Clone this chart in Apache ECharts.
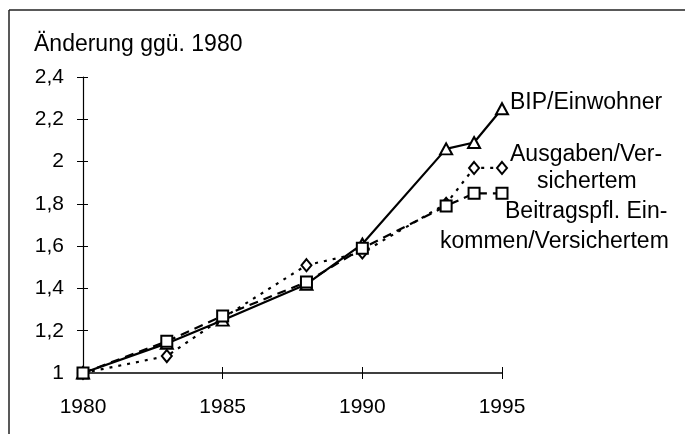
<!DOCTYPE html>
<html>
<head>
<meta charset="utf-8">
<script src="https://cdn.jsdelivr.net/npm/echarts@6/dist/echarts.min.js"></script>
<style>
  html, body { margin: 0; padding: 0; background: #fff; }
  #chart { width: 685px; height: 434px; }
</style>
</head>
<body>
<div id="chart"></div>
<script>
  // Jahre und Werte (Index, 1980 = 1)
  var years = [1980, 1983, 1985, 1988, 1990, 1993, 1994, 1995];
  var bipEinwohner = [1.0, 1.14, 1.25, 1.42, 1.61, 2.06, 2.09, 2.25];
  var ausgabenVers = [1.0, 1.08, 1.26, 1.51, 1.57, 1.80, 1.97, 1.97];
  var beitragEink  = [1.0, 1.15, 1.27, 1.43, 1.59, 1.79, 1.85, 1.85];
  var yTicks = [1, 1.2, 1.4, 1.6, 1.8, 2, 2.2, 2.4];
  var xTicks = [1980, 1985, 1990, 1995];
  var titleText = 'Änderung ggü. 1980';
  var bipLabel = ['BIP/Einwohner'];
  var ausgabenLabel = ['Ausgaben/Ver-', 'sichertem'];
  var beitragLabel = ['Beitragspfl. Ein-', 'kommen/Versichertem'];

  function pairs(vals) {
    return years.map(function (y, i) { return [y, vals[i]]; });
  }
  function fmtY(v) {
    return String(+v.toFixed(1)).replace('.', ',');
  }

  var font = 'Liberation Sans, Arial, sans-serif';
  var chart = echarts.init(document.getElementById('chart'));

  var lineItem = { color: '#fff', borderColor: '#000', borderWidth: 2 };

  function txt(x, y, s) {
    return { type: 'text', left: x, top: y, style: { text: s, fontSize: 23, fontFamily: font, fill: '#000' } };
  }

  chart.setOption({
    animation: false,
    backgroundColor: '#fff',
    grid: { left: 83, right: 183, top: 77, bottom: 61, containLabel: false },
    xAxis: [{
      type: 'value', min: xTicks[0], max: xTicks[xTicks.length - 1], interval: 5,
      axisLine: { lineStyle: { color: '#000', width: 1.5 } },
      axisTick: { show: true, length: 6, lineStyle: { color: '#000', width: 1 } },
      axisLabel: { color: '#000', fontSize: 21, fontFamily: font, margin: 24, formatter: function (v) { return String(v); } },
      splitLine: { show: false }
    }, {
      type: 'value', min: xTicks[0], max: xTicks[xTicks.length - 1], interval: 5,
      position: 'bottom',
      axisLine: { show: false },
      axisTick: { show: true, inside: true, length: 6, lineStyle: { color: '#000', width: 1 } },
      axisLabel: { show: false },
      splitLine: { show: false }
    }],
    yAxis: [{
      type: 'value', min: 1, max: 2.4, interval: 0.2,
      axisLine: { show: true, lineStyle: { color: '#000', width: 1.2 } },
      axisTick: { show: true, length: 6, lineStyle: { color: '#000', width: 1 } },
      axisLabel: { color: '#000', fontSize: 21, fontFamily: font, margin: 19, formatter: fmtY },
      splitLine: { show: false }
    }, {
      type: 'value', min: 1, max: 2.4, interval: 0.2, position: 'left',
      axisLine: { show: false },
      axisTick: { show: true, inside: true, length: 5, lineStyle: { color: '#000', width: 1 } },
      axisLabel: { show: false },
      splitLine: { show: false }
    }],
    series: [{
      name: 'Ausgaben/Versichertem',
      type: 'line',
      data: pairs(ausgabenVers),
      symbol: 'diamond', symbolSize: [10, 12],
      itemStyle: lineItem,
      lineStyle: { color: '#000', width: 2.2, type: [3, 6] },
      z: 2
    }, {
      name: 'BIP/Einwohner',
      type: 'line',
      data: pairs(bipEinwohner),
      symbol: 'triangle', symbolSize: [12, 11],
      itemStyle: lineItem,
      lineStyle: { color: '#000', width: 2.2, type: 'solid' },
      z: 3
    }, {
      name: 'Beitragspfl. Einkommen/Versichertem',
      type: 'line',
      data: pairs(beitragEink),
      symbol: 'rect', symbolSize: 11,
      itemStyle: lineItem,
      lineStyle: { color: '#000', width: 2.2, type: [9, 6] },
      z: 4
    }],
    graphic: [
      { type: 'line', shape: { x1: 9, y1: 10, x2: 685, y2: 10 }, style: { stroke: '#222', lineWidth: 1.5 } },
      { type: 'line', shape: { x1: 9, y1: 10, x2: 9, y2: 434 }, style: { stroke: '#222', lineWidth: 1.5 } },
      txt(34, 33, titleText),
      txt(510, 91, bipLabel[0]),
      txt(510, 143, ausgabenLabel[0]),
      txt(537, 170, ausgabenLabel[1]),
      txt(505, 200, beitragLabel[0]),
      txt(440, 230, beitragLabel[1])
    ]
  });
</script>
</body>
</html>
